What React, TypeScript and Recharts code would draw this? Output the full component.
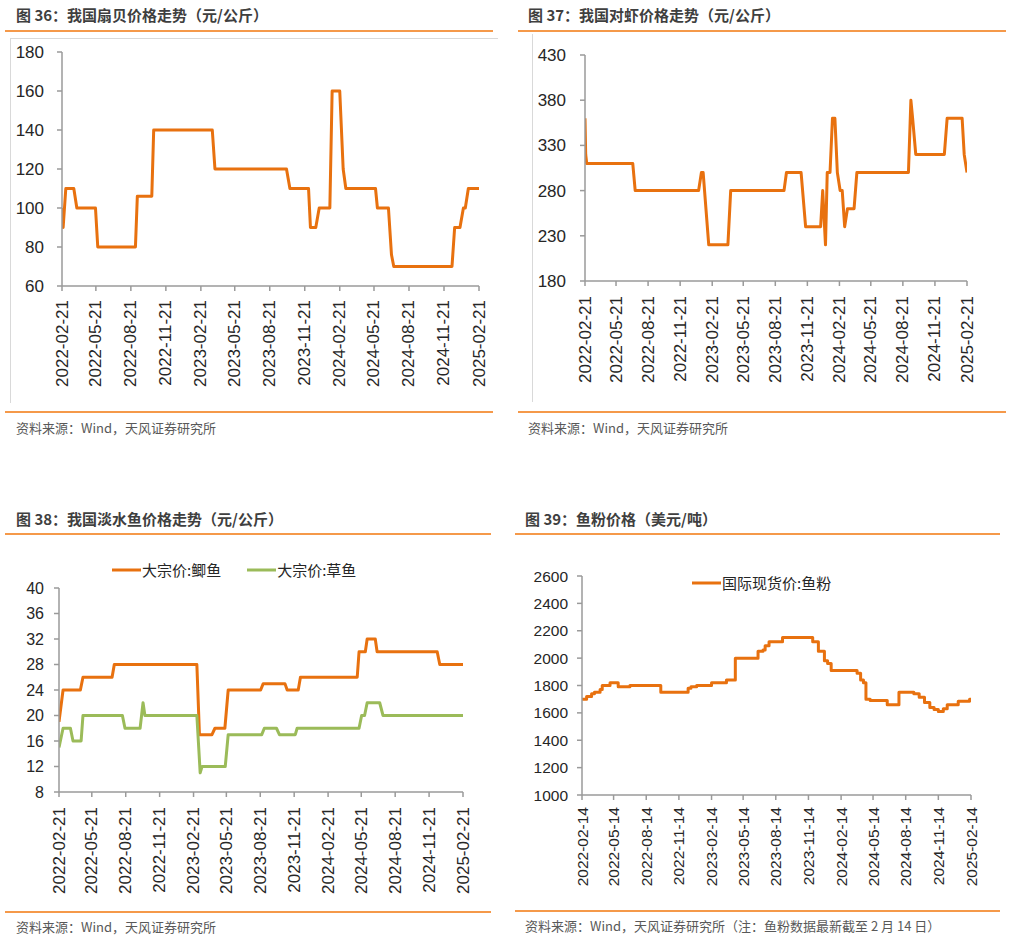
import React from "react";
import { LineChart, Line, XAxis, YAxis, Legend } from "recharts";

// 图36 扇贝价格 (元/公斤)
const scallopDates = [
  "2022-02-21", "2022-02-24", "2022-03-03", "2022-03-24", "2022-04-01", "2022-05-20", "2022-05-26",
  "2022-09-02", "2022-09-07", "2022-10-15", "2022-10-20", "2023-03-23", "2023-03-30", "2023-10-04",
  "2023-10-13", "2023-12-01", "2023-12-06", "2023-12-20", "2023-12-29", "2024-01-26", "2024-02-01",
  "2024-02-21", "2024-03-01", "2024-03-08", "2024-05-25", "2024-05-30", "2024-06-28", "2024-07-06",
  "2024-07-12", "2024-12-12", "2024-12-19", "2025-01-02", "2025-01-11", "2025-01-16", "2025-01-24",
  "2025-02-21",
];
const scallopPrice = [
  100, 90, 110, 110, 100, 100, 80,
  80, 106, 106, 140, 140, 120, 120,
  110, 110, 90, 90, 100, 100, 160,
  160, 120, 110, 110, 100, 100, 76,
  70, 70, 90, 90, 100, 100, 110,
  110,
];

// 图37 对虾价格 (元/公斤)
const shrimpDates = [
  "2022-02-21", "2022-02-23", "2022-02-26", "2022-07-08", "2022-07-15", "2023-01-13", "2023-01-21",
  "2023-01-26", "2023-02-11", "2023-04-07", "2023-04-15", "2023-09-15", "2023-09-22", "2023-11-03",
  "2023-11-16", "2023-12-29", "2024-01-04", "2024-01-12", "2024-01-17", "2024-01-25", "2024-02-01",
  "2024-02-08", "2024-02-15", "2024-02-23", "2024-02-29", "2024-03-07", "2024-03-15", "2024-04-03",
  "2024-04-11", "2024-09-06", "2024-09-13", "2024-09-18", "2024-09-27", "2024-12-18", "2024-12-26",
  "2025-02-07", "2025-02-13", "2025-02-21",
];
const shrimpPrice = [
  360, 320, 310, 310, 280, 280, 300,
  300, 220, 220, 280, 280, 300, 300,
  240, 240, 280, 220, 300, 300, 360,
  360, 300, 280, 280, 240, 260, 260,
  300, 300, 380, 360, 320, 320, 360,
  360, 320, 300,
];

// 图38 淡水鱼价格 (元/公斤)
const crucianDates = [
  "2022-02-21", "2022-03-04", "2022-04-20", "2022-04-27", "2022-07-15", "2022-07-21", "2023-03-02",
  "2023-03-09", "2023-04-12", "2023-04-20", "2023-05-17", "2023-05-26", "2023-08-22", "2023-08-29",
  "2023-10-27", "2023-11-02", "2023-12-02", "2023-12-08", "2024-05-10", "2024-05-15", "2024-06-01",
  "2024-06-06", "2024-06-28", "2024-07-03", "2024-12-13", "2024-12-20", "2025-02-21",
];
const crucianPrice = [
  19, 24, 24, 26, 26, 28, 28,
  17, 17, 18, 18, 24, 24, 25,
  25, 24, 24, 26, 26, 30, 30,
  32, 32, 30, 30, 28, 28,
];
const grassDates = [
  "2022-02-21", "2022-03-04", "2022-03-24", "2022-03-31", "2022-04-22", "2022-04-27", "2022-08-12",
  "2022-08-19", "2022-09-29", "2022-10-07", "2022-10-12", "2023-03-02", "2023-03-11", "2023-03-16",
  "2023-05-18", "2023-05-26", "2023-08-25", "2023-09-01", "2023-10-04", "2023-10-12", "2023-11-24",
  "2023-11-29", "2024-05-15", "2024-05-22", "2024-05-30", "2024-06-06", "2024-07-10", "2024-07-19",
  "2025-02-21",
];
const grassPrice = [
  15, 18, 18, 16, 16, 20, 20,
  18, 18, 22, 20, 20, 11, 12,
  12, 17, 17, 18, 18, 17, 17,
  18, 18, 20, 20, 22, 22, 20,
  20,
];

// 图39 鱼粉价格 (美元/吨)
const fishmealDates = [
  "2022-02-14", "2022-02-27", "2022-03-13", "2022-03-21", "2022-04-06", "2022-04-12", "2022-05-04",
  "2022-05-27", "2022-06-29", "2022-09-24", "2022-12-10", "2022-12-18", "2023-01-03", "2023-02-14",
  "2023-03-28", "2023-04-22", "2023-06-25", "2023-07-09", "2023-07-15", "2023-07-26", "2023-09-02",
  "2023-11-26", "2023-12-12", "2023-12-29", "2024-01-07", "2024-01-17", "2024-03-30", "2024-04-09",
  "2024-04-17", "2024-04-24", "2024-05-06", "2024-06-23", "2024-07-26", "2024-09-06", "2024-09-21",
  "2024-10-06", "2024-10-21", "2024-11-02", "2024-11-14", "2024-11-28", "2024-12-09", "2025-01-09",
  "2025-02-10", "2025-02-14",
];
const fishmealPrice = [
  1700, 1720, 1740, 1750, 1770, 1800, 1820,
  1790, 1800, 1750, 1780, 1790, 1800, 1820,
  1840, 2000, 2050, 2060, 2090, 2120, 2150,
  2120, 2050, 1980, 1960, 1910, 1890, 1840,
  1820, 1700, 1690, 1660, 1750, 1740, 1715,
  1675, 1640, 1625, 1610, 1630, 1660, 1685,
  1700, 1700,
];

const ticks21 = [
  "2022-02-21", "2022-05-21", "2022-08-21", "2022-11-21", "2023-02-21", "2023-05-21", "2023-08-21",
  "2023-11-21", "2024-02-21", "2024-05-21", "2024-08-21", "2024-11-21", "2025-02-21",
];
const ticks14 = [
  "2022-02-14", "2022-05-14", "2022-08-14", "2022-11-14", "2023-02-14", "2023-05-14", "2023-08-14",
  "2023-11-14", "2024-02-14", "2024-05-14", "2024-08-14", "2024-11-14", "2025-02-14",
];

const ORANGE = "#E8710F";
const GREEN = "#9BBB59";
const RULE = "#F5994A";
const AXIS = "#9a9a9a";
const NUM_FONT = '"Liberation Sans", Arial, sans-serif';
const CJK_FONT = '"Noto Sans CJK SC", "Noto Sans", sans-serif';

const ts = (d: string) => Date.parse(d + "T00:00:00Z");
const fmt = (v: number) => new Date(v).toISOString().slice(0, 10);
const rows = (dates: string[], vals: number[]) => dates.map((d, i) => ({ t: ts(d), v: vals[i] }));

const XTick = (props: any) => {
  const { x, y, payload, fs, off } = props;
  return (
    <g transform={`translate(${x},${y})`}>
      <text
        x={-off}
        y={0}
        transform="rotate(-90)"
        textAnchor="end"
        dominantBaseline="central"
        fontSize={fs}
        fontFamily={NUM_FONT}
        fill="#262626"
      >
        {fmt(payload.value)}
      </text>
    </g>
  );
};

// legend keeps the series order instead of recharts' name sort
const makeLegend = (order: string[]) => (props: any) => {
  const items = [...(props.payload || [])].sort(
    (a: any, b: any) => order.indexOf(a.value) - order.indexOf(b.value)
  );
  return (
    <div style={{ display: "flex", alignItems: "center", gap: 26, fontFamily: CJK_FONT, fontSize: 15, color: "#262626", lineHeight: "22px" }}>
      {items.map((e: any) => (
        <div key={e.value} style={{ display: "flex", alignItems: "center" }}>
          <svg width={29} height={4}>
            <line x1={0} y1={2} x2={29} y2={2} stroke={e.color} strokeWidth={3} />
          </svg>
          <span style={{ marginLeft: 1 }}>{e.value}</span>
        </div>
      ))}
    </div>
  );
};

interface Series {
  name: string;
  dates: string[];
  values: number[];
  color: string;
}

interface PanelProps {
  left: number;
  top: number;
  width: number;
  height: number;
  margin: { top: number; right: number; bottom: number; left: number };
  yWidth: number;
  yTicks: number[];
  yFont: number;
  yGap: number;
  xTicks: string[];
  xFont: number;
  xOff: number;
  xHeight: number;
  series: Series[];
  step?: boolean;
  legendPos?: { left: number; top: number };
}

function Panel(p: PanelProps) {
  const first = ts(p.xTicks[0]);
  const last = ts(p.xTicks[p.xTicks.length - 1]);
  const legendContent = makeLegend(p.series.map((s) => s.name));
  return (
    <div style={{ position: "absolute", left: p.left, top: p.top }}>
      <LineChart width={p.width} height={p.height} margin={p.margin}>
        <XAxis
          type="number"
          dataKey="t"
          domain={[first, last]}
          ticks={p.xTicks.map(ts)}
          interval={0}
          height={p.xHeight}
          stroke={AXIS}
          strokeWidth={1.5}
          tickSize={5}
          tickMargin={0}
          allowDataOverflow
          tick={(tp: any) => <XTick {...tp} fs={p.xFont} off={p.xOff} />}
        />
        <YAxis
          type="number"
          domain={[p.yTicks[0], p.yTicks[p.yTicks.length - 1]]}
          ticks={p.yTicks}
          interval={0}
          width={p.yWidth}
          stroke={AXIS}
          strokeWidth={1.5}
          tickSize={5}
          tickMargin={p.yGap}
          tick={{ fill: "#262626", fontSize: p.yFont, fontFamily: NUM_FONT }}
        />
        {p.legendPos && (
          <Legend
            layout="horizontal"
            verticalAlign="middle"
            align="center"
            content={legendContent}
            wrapperStyle={{ left: p.legendPos.left, top: p.legendPos.top, width: "auto" }}
          />
        )}
        {p.series.map((s) => (
          <Line
            key={s.name}
            name={s.name}
            data={rows(s.dates, s.values)}
            dataKey="v"
            type={p.step ? "stepAfter" : "linear"}
            stroke={s.color}
            strokeWidth={3}
            strokeLinejoin="round"
            dot={false}
            activeDot={false}
            isAnimationActive={false}
          />
        ))}
      </LineChart>
    </div>
  );
}

const Title = ({ x, y, text }: { x: number; y: number; text: string }) => (
  <div
    style={{
      position: "absolute",
      left: x,
      top: y - 11,
      fontFamily: CJK_FONT,
      fontSize: 15,
      fontWeight: 700,
      color: "#3f3f3f",
      lineHeight: "22px",
      whiteSpace: "nowrap",
    }}
  >
    {text}
  </div>
);

const Rule = ({ x1, x2, y }: { x1: number; x2: number; y: number }) => (
  <div style={{ position: "absolute", left: x1, top: y - 1, width: x2 - x1, height: 2, background: RULE }} />
);

const Source = ({ x, y, text }: { x: number; y: number; text: string }) => (
  <div
    style={{
      position: "absolute",
      left: x,
      top: y - 10,
      fontFamily: CJK_FONT,
      fontSize: 13,
      color: "#595959",
      lineHeight: "20px",
      whiteSpace: "nowrap",
    }}
  >
    {text}
  </div>
);

export default function App() {
  return (
    <div style={{ position: "absolute", left: 0, top: 0, width: 1011, height: 939, background: "#fff", overflow: "hidden" }}>
      <Title x={16} y={15} text="图 36：我国扇贝价格走势（元/公斤）" />
      <Rule x1={5} x2={493} y={31} />
      <div style={{ position: "absolute", left: 10, top: 38, width: 487, height: 364, borderLeft: "1px solid #d9d9d9", borderTop: "1px solid #d9d9d9" }} />
      <Panel
        left={10}
        top={40}
        width={490}
        height={360}
        margin={{ top: 12, right: 21, bottom: 4, left: 0 }}
        yWidth={52}
        yTicks={[60, 80, 100, 120, 140, 160, 180]}
        yFont={17}
        yGap={13}
        xTicks={ticks21}
        xFont={17}
        xOff={9}
        xHeight={110}
        series={[{ name: "扇贝", dates: scallopDates, values: scallopPrice, color: ORANGE }]}
      />
      <Rule x1={5} x2={493} y={412} />
      <Source x={16} y={428} text="资料来源：Wind，天风证券研究所" />

      <Title x={528} y={15} text="图 37：我国对虾价格走势（元/公斤）" />
      <Rule x1={518} x2={1006} y={31} />
      <div style={{ position: "absolute", left: 532, top: 34, width: 1, height: 368, background: "#d9d9d9" }} />
      <Panel
        left={533}
        top={40}
        width={470}
        height={360}
        margin={{ top: 15, right: 36, bottom: 4, left: 0 }}
        yWidth={52}
        yTicks={[180, 230, 280, 330, 380, 430]}
        yFont={17}
        yGap={14}
        xTicks={ticks21}
        xFont={17}
        xOff={10}
        xHeight={115}
        series={[{ name: "对虾", dates: shrimpDates, values: shrimpPrice, color: ORANGE }]}
      />
      <Rule x1={518} x2={1006} y={412} />
      <Source x={528} y={428} text="资料来源：Wind，天风证券研究所" />

      <Title x={16} y={519} text="图 38：我国淡水鱼价格走势（元/公斤）" />
      <Rule x1={5} x2={491} y={534} />
      <Panel
        left={6}
        top={545}
        width={488}
        height={355}
        margin={{ top: 43, right: 31, bottom: 4, left: 0 }}
        yWidth={53}
        yTicks={[8, 12, 16, 20, 24, 28, 32, 36, 40]}
        yFont={16}
        yGap={10}
        xTicks={ticks21}
        xFont={17}
        xOff={10}
        xHeight={104}
        legendPos={{ left: 106, top: 14 }}
        series={[
          { name: "大宗价:鲫鱼", dates: crucianDates, values: crucianPrice, color: ORANGE },
          { name: "大宗价:草鱼", dates: grassDates, values: grassPrice, color: GREEN },
        ]}
      />
      <Rule x1={5} x2={491} y={912} />
      <Source x={16} y={927} text="资料来源：Wind，天风证券研究所" />

      <Title x={525} y={519} text="图 39：鱼粉价格（美元/吨）" />
      <Rule x1={515} x2={1000} y={534} />
      <Panel
        left={515}
        top={545}
        width={480}
        height={355}
        margin={{ top: 31, right: 24, bottom: 4, left: 0 }}
        yWidth={67}
        yTicks={[1000, 1200, 1400, 1600, 1800, 2000, 2200, 2400, 2600]}
        yFont={15.5}
        yGap={9}
        xTicks={ticks14}
        xFont={15.5}
        xOff={7}
        xHeight={101}
        step
        legendPos={{ left: 177, top: 27 }}
        series={[{ name: "国际现货价:鱼粉", dates: fishmealDates, values: fishmealPrice, color: ORANGE }]}
      />
      <Rule x1={515} x2={1000} y={911} />
      <Source x={525} y={926} text="资料来源：Wind，天风证券研究所（注：鱼粉数据最新截至 2 月 14 日）" />
    </div>
  );
}
